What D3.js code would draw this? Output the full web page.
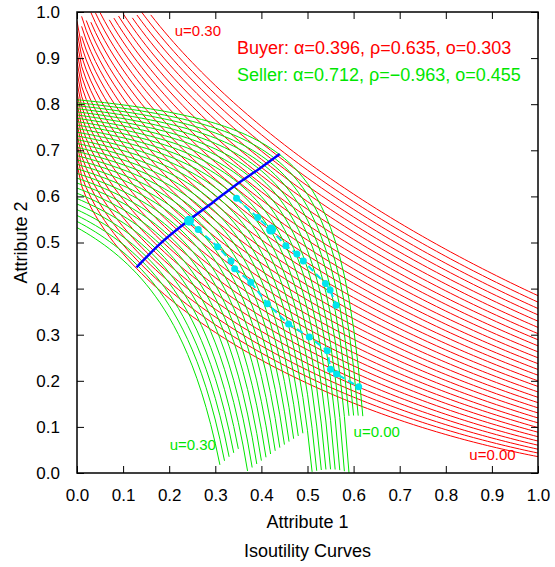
<!DOCTYPE html>
<html>
<head>
<meta charset="utf-8">
<script src="https://cdn.jsdelivr.net/npm/d3@7"></script>
<style>
body { margin: 0; background: #fff; }
svg { font-family: "Liberation Sans", Arial, Helvetica, sans-serif; }
</style>
</head>
<body>
<div id="container"></div>
<script>
////////// DATA

// utility levels of the drawn isoutility curves (same for both agents)
var utilityLevels = [0.00, 0.01, 0.02, 0.03, 0.04, 0.05, 0.06, 0.07, 0.08, 0.09,
	0.10, 0.11, 0.12, 0.13, 0.14, 0.15, 0.16, 0.17, 0.18, 0.19,
	0.20, 0.21, 0.22, 0.23, 0.24, 0.25, 0.26, 0.27, 0.28, 0.29, 0.30];

// CES parameters, as printed on the chart
var buyerAlpha = 0.396, buyerRho = 0.635, buyerOffset = 0.303;
var sellerAlpha = 0.712, sellerRho = -0.963, sellerOffset = 0.455;

// blue curve
var frontierX = [0.129, 0.180, 0.241, 0.296, 0.346, 0.397, 0.440];
var frontierY = [0.446, 0.497, 0.547, 0.588, 0.626, 0.661, 0.692];

// cyan offer traces
var traceAX = [0.243, 0.263, 0.305, 0.334, 0.342, 0.377, 0.413, 0.459, 0.504, 0.543, 0.550, 0.563, 0.611];
var traceAY = [0.547, 0.528, 0.491, 0.460, 0.443, 0.414, 0.367, 0.323, 0.295, 0.265, 0.225, 0.215, 0.187];
var traceBX = [0.346, 0.392, 0.421, 0.453, 0.477, 0.491, 0.539, 0.549, 0.562];
var traceBY = [0.596, 0.554, 0.528, 0.493, 0.475, 0.460, 0.411, 0.397, 0.364];

// axis ticks
var tickValues = [0.0, 0.1, 0.2, 0.3, 0.4, 0.5, 0.6, 0.7, 0.8, 0.9, 1.0];

////////// DRAWING

var gWidth = 555, gHeight = 567;
var left = 77, right = 538, top_ = 12, bottom = 473;
var colRed = "#ff0000", colGreen = "#00e600", colBlue = "#0000ff", colCyan = "#00e5ee";

var svg = d3.select("#container").append("svg")
	.attr("width", gWidth)
	.attr("height", gHeight);

var x = d3.scaleLinear().domain([0, 1]).range([left, right]);
var y = d3.scaleLinear().domain([0, 1]).range([bottom, top_]);

svg.append("clipPath").attr("id", "plotClip")
	.append("rect")
	.attr("x", left).attr("y", top_)
	.attr("width", right - left).attr("height", bottom - top_);

var plot = svg.append("g").attr("clip-path", "url(#plotClip)");

var sampleX = d3.range(0, 101).map(function(i) { return i / 100; }); // evaluation grid

// buyer: (a*x^r + (1-a)*y^r)^(1/r) - o = u
function buyerCurve(u)
{
	var pts = [];
	var target = Math.pow(u + buyerOffset, buyerRho);
	sampleX.forEach(function(xv) {
		var t = (target - buyerAlpha * Math.pow(xv, buyerRho)) / (1 - buyerAlpha);
		if (t <= 0) return;
		var yv = Math.pow(t, 1 / buyerRho);
		if (yv >= 0 && yv <= 1) pts.push([xv, yv]);
	});
	return pts;
}

// seller: (a*(1-x)^r + (1-a)*(1-y)^r)^(1/r) - o = u
function sellerCurve(u)
{
	var pts = [];
	var target = Math.pow(u + sellerOffset, sellerRho);
	sampleX.forEach(function(xv) {
		var t = (target - sellerAlpha * Math.pow(1 - xv, sellerRho)) / (1 - sellerAlpha);
		if (!(t > 0) || !isFinite(t)) return;
		var yv = 1 - Math.pow(t, 1 / sellerRho);
		if (yv >= 0 && yv <= 1) pts.push([xv, yv]);
	});
	return pts;
}

var line = d3.line()
	.x(function(d) { return x(d[0]); })
	.y(function(d) { return y(d[1]); });

// red curves
plot.selectAll(".buyerCurve").data(utilityLevels).enter().append("path")
	.attr("class", "buyerCurve")
	.attr("d", function(u) { return line(buyerCurve(u)); })
	.style("fill", "none")
	.style("stroke", colRed)
	.style("stroke-width", "1px");

// green curves
plot.selectAll(".sellerCurve").data(utilityLevels).enter().append("path")
	.attr("class", "sellerCurve")
	.attr("d", function(u) { return line(sellerCurve(u)); })
	.style("fill", "none")
	.style("stroke", colGreen)
	.style("stroke-width", "1px");

// blue curve, smoothed
var frontier = frontierX.map(function(v, i) { return [v, frontierY[i]]; });
plot.append("path")
	.attr("d", line.curve(d3.curveMonotoneX)(frontier))
	.style("fill", "none")
	.style("stroke", colBlue)
	.style("stroke-width", "2.5px");
line.curve(d3.curveLinear);

// cyan traces
function drawTrace(xs, ys, bigIndex)
{
	var pts = xs.map(function(v, i) { return [v, ys[i]]; });
	plot.append("path")
		.attr("d", line(pts))
		.style("fill", "none")
		.style("stroke", colCyan)
		.style("stroke-width", "2px")
		.style("stroke-dasharray", "7,4");
	plot.selectAll(null).data(pts).enter().append("circle")
		.attr("cx", function(d) { return x(d[0]); })
		.attr("cy", function(d) { return y(d[1]); })
		.attr("r", function(d, i) { return i == bigIndex ? 5 : 3.5; })
		.style("fill", colCyan);
}
drawTrace(traceAX, traceAY, 0);
drawTrace(traceBX, traceBY, 2);

// axes
function tickStyle(g)
{
	g.select(".domain").remove();
	g.selectAll("line").style("stroke", "#000").style("stroke-width", "1px");
	g.selectAll("text").style("font-size", "17px").style("fill", "#000")
		.style("font-family", "'Liberation Sans', Arial, sans-serif");
}
var fmt = d3.format(".1f");
svg.append("g").attr("transform", "translate(0," + bottom + ")")
	.call(d3.axisBottom(x).tickValues(tickValues).tickFormat(fmt).tickSizeInner(-7).tickSizeOuter(0).tickPadding(16))
	.call(tickStyle);
svg.append("g").attr("transform", "translate(" + left + ",0)")
	.call(d3.axisLeft(y).tickValues(tickValues).tickFormat(fmt).tickSizeInner(-7).tickSizeOuter(0).tickPadding(17))
	.call(tickStyle);
svg.append("g").attr("transform", "translate(0," + top_ + ")")
	.call(d3.axisTop(x).tickValues(tickValues).tickFormat("").tickSizeInner(-7).tickSizeOuter(0))
	.call(tickStyle);
svg.append("g").attr("transform", "translate(" + right + ",0)")
	.call(d3.axisRight(y).tickValues(tickValues).tickFormat("").tickSizeInner(-7).tickSizeOuter(0))
	.call(tickStyle);

// border
svg.append("rect")
	.attr("x", left).attr("y", top_)
	.attr("width", right - left).attr("height", bottom - top_)
	.style("fill", "none")
	.style("stroke", "#000")
	.style("stroke-width", "1.5px");

// labels
function label(text, xv, yv, color, size, anchor)
{
	svg.append("text")
		.attr("x", x(xv))
		.attr("y", y(yv))
		.text(text)
		.style("fill", color)
		.style("font-size", size + "px")
		.style("text-anchor", anchor || "start");
}
label("Buyer: \u03b1=" + buyerAlpha.toFixed(3) + ", \u03c1=" + buyerRho.toFixed(3) + ", o=" + buyerOffset.toFixed(3), 0.347, 0.909, colRed, 18);
label("Seller: \u03b1=" + sellerAlpha.toFixed(3) + ", \u03c1=\u2212" + Math.abs(sellerRho).toFixed(3) + ", o=" + sellerOffset.toFixed(3), 0.347, 0.850, colGreen, 18);
label("u=0.30", 0.212, 0.949, colRed, 15);
label("u=0.00", 0.851, 0.028, colRed, 15);
label("u=0.30", 0.201, 0.050, colGreen, 15);
label("u=0.00", 0.600, 0.078, colGreen, 15);

svg.append("text")
	.attr("x", (left + right) / 2).attr("y", 528)
	.attr("text-anchor", "middle")
	.style("font-size", "18px")
	.text("Attribute 1");
svg.append("text")
	.attr("transform", "translate(27," + ((top_ + bottom) / 2) + ") rotate(-90)")
	.attr("text-anchor", "middle")
	.style("font-size", "18px")
	.text("Attribute 2");
svg.append("text")
	.attr("x", (left + right) / 2).attr("y", 557)
	.attr("text-anchor", "middle")
	.style("font-size", "18px")
	.text("Isoutility Curves");
</script>
</body>
</html>
